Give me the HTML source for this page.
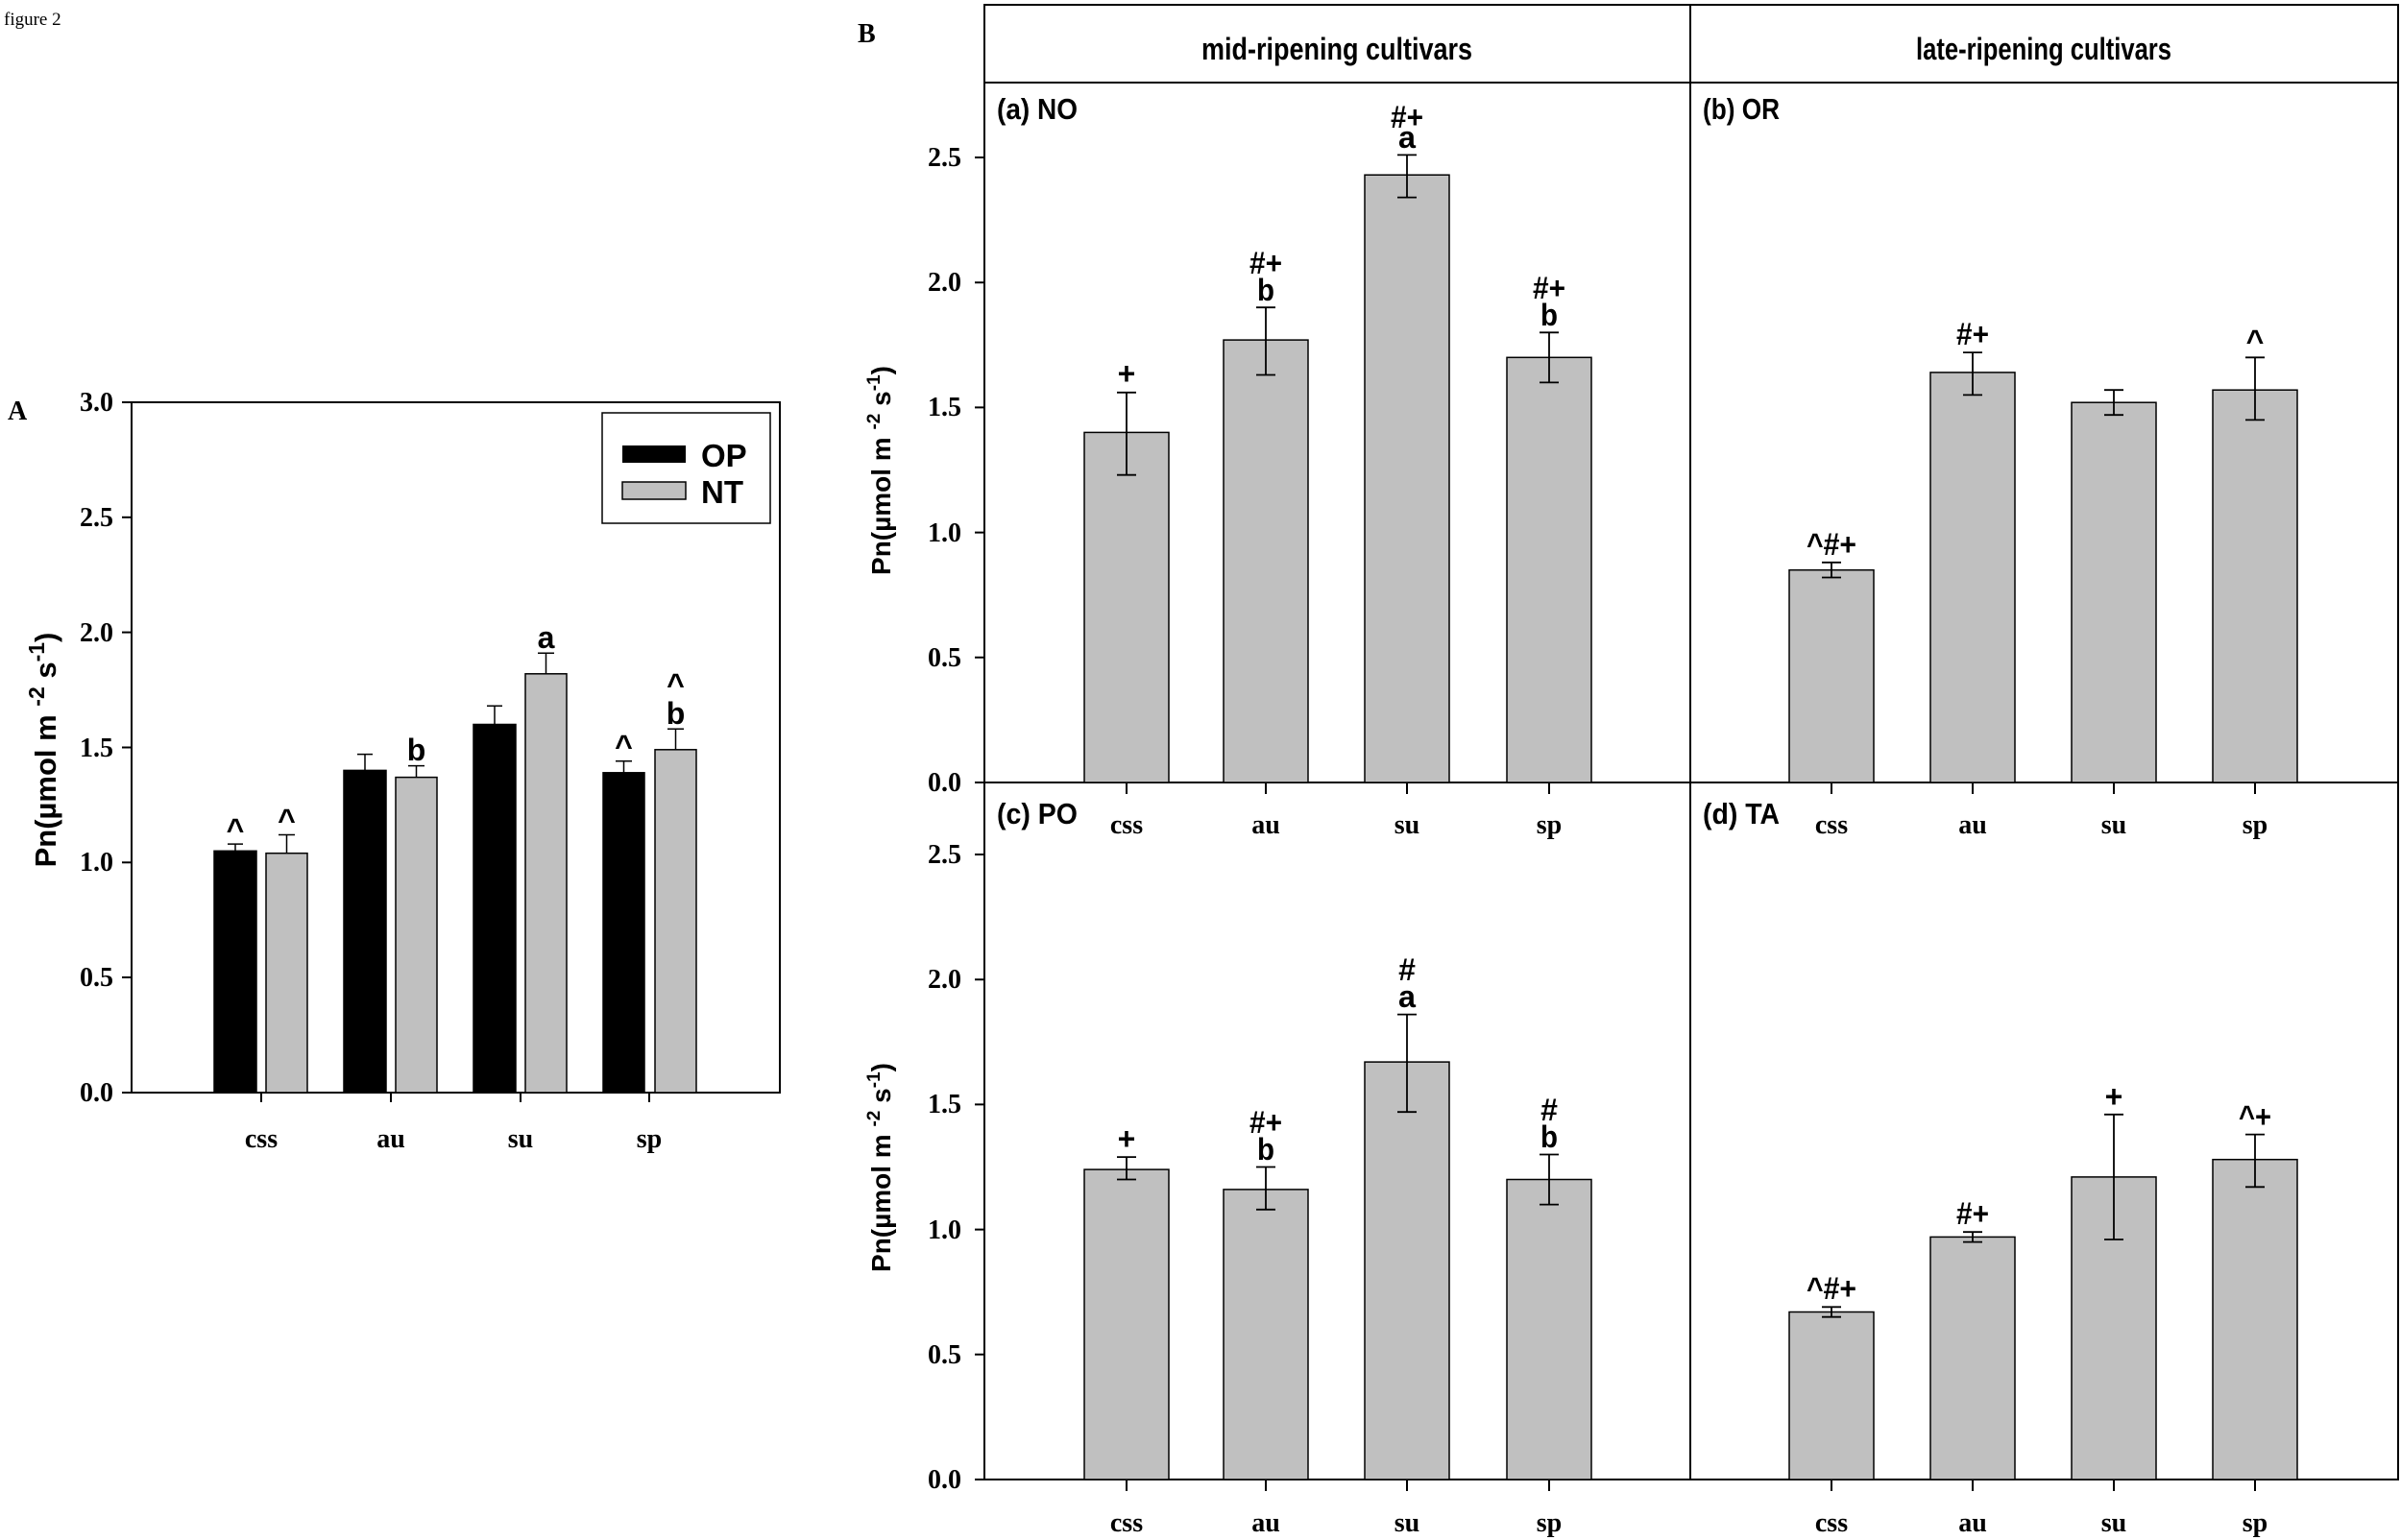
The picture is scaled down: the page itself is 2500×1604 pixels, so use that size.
<!DOCTYPE html>
<html><head><meta charset="utf-8"><style>
html,body{margin:0;padding:0;background:#fff;}
svg{display:block;}
.t{font-family:"Liberation Serif",serif;font-weight:bold;font-size:28px;fill:#000;}
.s{font-family:"Liberation Sans",sans-serif;font-weight:bold;fill:#000;}
</style></head><body>
<svg width="2500" height="1604" viewBox="0 0 2500 1604" xmlns="http://www.w3.org/2000/svg">
<text x="4" y="26" font-family="Liberation Serif,serif" font-size="19">figure 2</text>

<!-- PANEL A -->
<text x="8" y="437" class="t" font-size="26">A</text>
<rect x="137" y="419" width="675" height="719" fill="none" stroke="#000" stroke-width="2"/>
<g stroke="#000" stroke-width="2">
<line x1="127" y1="419" x2="137" y2="419"/><line x1="127" y1="538.8" x2="137" y2="538.8"/>
<line x1="127" y1="658.6" x2="137" y2="658.6"/><line x1="127" y1="778.5" x2="137" y2="778.5"/>
<line x1="127" y1="898.3" x2="137" y2="898.3"/><line x1="127" y1="1018" x2="137" y2="1018"/>
<line x1="127" y1="1138" x2="137" y2="1138"/>
<line x1="272" y1="1138" x2="272" y2="1148"/><line x1="407" y1="1138" x2="407" y2="1148"/>
<line x1="542" y1="1138" x2="542" y2="1148"/><line x1="676" y1="1138" x2="676" y2="1148"/>
</g>
<g class="t" text-anchor="end">
<text x="118" y="428">3.0</text><text x="118" y="548">2.5</text><text x="118" y="668">2.0</text>
<text x="118" y="788">1.5</text><text x="118" y="907">1.0</text><text x="118" y="1027">0.5</text>
<text x="118" y="1147">0.0</text>
</g>
<g class="t" text-anchor="middle">
<text x="272" y="1195">css</text><text x="407" y="1195">au</text><text x="542" y="1195">su</text><text x="676" y="1195">sp</text>
</g>
<text class="s" font-size="31" transform="translate(58,781) rotate(-90)" text-anchor="middle">Pn(µmol m <tspan font-size="23" dy="-12">-2</tspan><tspan dy="12"> s</tspan><tspan font-size="23" dy="-12">-1</tspan><tspan dy="12">)</tspan></text>
<!-- legend -->
<rect x="627" y="430" width="175" height="115" fill="#fff" stroke="#000" stroke-width="1.5"/>
<rect x="648" y="464" width="66" height="18" fill="#000"/>
<rect x="648" y="502" width="66" height="18" fill="#c0c0c0" stroke="#000" stroke-width="1.5"/>
<text x="730" y="486" class="s" font-size="33">OP</text>
<text x="730" y="524" class="s" font-size="33">NT</text>
<!-- bars A -->
<g stroke="#000" stroke-width="1.5">
<rect x="223" y="886.3" width="44" height="251.7" fill="#000"/>
<rect x="277" y="888.7" width="43" height="249.3" fill="#c0c0c0"/>
<rect x="358" y="802.4" width="44" height="335.6" fill="#000"/>
<rect x="412" y="809.6" width="43" height="328.4" fill="#c0c0c0"/>
<rect x="493" y="754.5" width="44" height="383.5" fill="#000"/>
<rect x="547" y="701.8" width="43" height="436.2" fill="#c0c0c0"/>
<rect x="628" y="804.8" width="43" height="333.2" fill="#000"/>
<rect x="682" y="780.8" width="43" height="357.2" fill="#c0c0c0"/>
<path d="M245 886.3V879.1M237 879.1H253 M298.5 888.7V869.5M290 869.5H307 M380 802.4V785.6M372 785.6H388 M433.5 809.6V797.6M425 797.6H442 M515 754.5V735.3M507 735.3H523 M568.5 701.8V680.2M560 680.2H577 M649.5 804.8V792.8M641 792.8H658 M703.5 780.8V759.3M695 759.3H712" fill="none"/>
</g>
<g class="s" font-size="32" text-anchor="middle">
<text x="245" y="875">^</text><text x="298.5" y="865">^</text>
<text x="433.5" y="792">b</text><text x="568.5" y="675">a</text>
<text x="649.5" y="788">^</text><text x="703.5" y="754">b</text><text x="703.5" y="724">^</text>
</g>

<!-- PANEL B -->
<text x="893" y="44" class="t" font-size="26">B</text>
<g stroke="#000" stroke-width="2" fill="none">
<rect x="1025" y="5" width="1472" height="1536"/>
<line x1="1025" y1="86" x2="2497" y2="86"/>
<line x1="1760" y1="5" x2="1760" y2="1541"/>
<line x1="1015" y1="815" x2="2497" y2="815"/>
<line x1="1015" y1="1541" x2="2497" y2="1541"/>
<path d="M1015 164H1025M1015 294.2H1025M1015 424.4H1025M1015 554.6H1025M1015 684.8H1025M1015 890H1025M1015 1020.2H1025M1015 1150.4H1025M1015 1280.6H1025M1015 1410.8H1025"/>
<path d="M1173 815V827M1318 815V827M1465 815V827M1613 815V827M1907 815V827M2054 815V827M2201 815V827M2348 815V827 M1173 1541V1553M1318 1541V1553M1465 1541V1553M1613 1541V1553M1907 1541V1553M2054 1541V1553M2201 1541V1553M2348 1541V1553"/>
</g>
<g class="s" font-size="32" text-anchor="middle">
<text x="1392" y="62" textLength="282" lengthAdjust="spacingAndGlyphs">mid-ripening cultivars</text>
<text x="2128" y="62" textLength="266" lengthAdjust="spacingAndGlyphs">late-ripening cultivars</text>
</g>
<g class="s" font-size="31">
<text x="1038" y="124" textLength="84" lengthAdjust="spacingAndGlyphs">(a) NO</text>
<text x="1773" y="124" textLength="80" lengthAdjust="spacingAndGlyphs">(b) OR</text>
<text x="1038" y="858" textLength="84" lengthAdjust="spacingAndGlyphs">(c) PO</text>
<text x="1773" y="858" textLength="80" lengthAdjust="spacingAndGlyphs">(d) TA</text>
</g>
<g class="t" text-anchor="end">
<text x="1001" y="173">2.5</text><text x="1001" y="303">2.0</text><text x="1001" y="433">1.5</text>
<text x="1001" y="564">1.0</text><text x="1001" y="694">0.5</text><text x="1001" y="824">0.0</text>
<text x="1001" y="899">2.5</text><text x="1001" y="1029">2.0</text><text x="1001" y="1159">1.5</text>
<text x="1001" y="1290">1.0</text><text x="1001" y="1420">0.5</text><text x="1001" y="1550">0.0</text>
</g>
<g class="t" text-anchor="middle">
<text x="1173" y="868">css</text><text x="1318" y="868">au</text><text x="1465" y="868">su</text><text x="1613" y="868">sp</text>
<text x="1907" y="868">css</text><text x="2054" y="868">au</text><text x="2201" y="868">su</text><text x="2348" y="868">sp</text>
<text x="1173" y="1595">css</text><text x="1318" y="1595">au</text><text x="1465" y="1595">su</text><text x="1613" y="1595">sp</text>
<text x="1907" y="1595">css</text><text x="2054" y="1595">au</text><text x="2201" y="1595">su</text><text x="2348" y="1595">sp</text>
</g>
<text class="s" font-size="28" transform="translate(927,490) rotate(-90)" text-anchor="middle">Pn(µmol m <tspan font-size="19" dy="-11">-2</tspan><tspan dy="11"> s</tspan><tspan font-size="19" dy="-11">-1</tspan><tspan dy="11">)</tspan></text>
<text class="s" font-size="28" transform="translate(927,1216) rotate(-90)" text-anchor="middle">Pn(µmol m <tspan font-size="19" dy="-11">-2</tspan><tspan dy="11"> s</tspan><tspan font-size="19" dy="-11">-1</tspan><tspan dy="11">)</tspan></text>

<g fill="#c0c0c0" stroke="#000" stroke-width="1.5">
<rect x="1129" y="450.4" width="88" height="364.6"/>
<rect x="1274" y="354.1" width="88" height="460.9"/>
<rect x="1421" y="182.2" width="88" height="632.8"/>
<rect x="1569" y="372.3" width="88" height="442.7"/>
<rect x="1863" y="593.7" width="88" height="221.3"/>
<rect x="2010" y="387.9" width="88" height="427.1"/>
<rect x="2157" y="419.2" width="88" height="395.8"/>
<rect x="2304" y="406.2" width="88" height="408.8"/>
<rect x="1129" y="1218.1" width="88" height="322.9"/>
<rect x="1274" y="1238.9" width="88" height="302.1"/>
<rect x="1421" y="1106.1" width="88" height="434.9"/>
<rect x="1569" y="1228.5" width="88" height="312.5"/>
<rect x="1863" y="1366.5" width="88" height="174.5"/>
<rect x="2010" y="1288.4" width="88" height="252.6"/>
<rect x="2157" y="1225.9" width="88" height="315.1"/>
<rect x="2304" y="1207.7" width="88" height="333.3"/>
</g>
<g stroke="#000" stroke-width="1.8" fill="none">
<path d="M1173 494.7V408.8M1163 494.7H1183M1163 408.8H1183
M1318 390.5V320.2M1308 390.5H1328M1308 320.2H1328
M1465 205.6V161.4M1455 205.6H1475M1455 161.4H1475
M1613 398.4V346.3M1603 398.4H1623M1603 346.3H1623
M1907 601.5V585.8M1897 601.5H1917M1897 585.8H1917
M2054 411.4V367.1M2044 411.4H2064M2044 367.1H2064
M2201 432.2V406.2M2191 432.2H2211M2191 406.2H2211
M2348 437.4V372.3M2338 437.4H2358M2338 372.3H2358
M1173 1228.5V1205.1M1163 1228.5H1183M1163 1205.1H1183
M1318 1259.8V1215.5M1308 1259.8H1328M1308 1215.5H1328
M1465 1158.2V1056.6M1455 1158.2H1475M1455 1056.6H1475
M1613 1254.6V1202.5M1603 1254.6H1623M1603 1202.5H1623
M1907 1371.7V1361.3M1897 1371.7H1917M1897 1361.3H1917
M2054 1293.6V1283.2M2044 1293.6H2064M2044 1283.2H2064
M2201 1291V1160.8M2191 1291H2211M2191 1160.8H2211
M2348 1236.3V1181.6M2338 1236.3H2358M2338 1181.6H2358"/>
</g>
<g class="s" font-size="32" text-anchor="middle">
<text x="1173" y="400">+</text>
<text x="1318" y="313" textLength="18" lengthAdjust="spacingAndGlyphs">b</text><text x="1318" y="285" textLength="34" lengthAdjust="spacingAndGlyphs">#+</text>
<text x="1465" y="154" textLength="18" lengthAdjust="spacingAndGlyphs">a</text><text x="1465" y="133" textLength="34" lengthAdjust="spacingAndGlyphs">#+</text>
<text x="1613" y="339" textLength="18" lengthAdjust="spacingAndGlyphs">b</text><text x="1613" y="311" textLength="34" lengthAdjust="spacingAndGlyphs">#+</text>
<text x="1907" y="578" textLength="52" lengthAdjust="spacingAndGlyphs">^#+</text>
<text x="2054" y="359" textLength="34" lengthAdjust="spacingAndGlyphs">#+</text>
<text x="2348" y="366">^</text>
<text x="1173" y="1197">+</text>
<text x="1318" y="1208" textLength="18" lengthAdjust="spacingAndGlyphs">b</text><text x="1318" y="1180" textLength="34" lengthAdjust="spacingAndGlyphs">#+</text>
<text x="1465" y="1049" textLength="18" lengthAdjust="spacingAndGlyphs">a</text><text x="1465" y="1021">#</text>
<text x="1613" y="1195" textLength="18" lengthAdjust="spacingAndGlyphs">b</text><text x="1613" y="1167">#</text>
<text x="1907" y="1353" textLength="52" lengthAdjust="spacingAndGlyphs">^#+</text>
<text x="2054" y="1275" textLength="34" lengthAdjust="spacingAndGlyphs">#+</text>
<text x="2201" y="1153">+</text>
<text x="2348" y="1174" textLength="34" lengthAdjust="spacingAndGlyphs">^+</text>
</g>
</svg>
</body></html>
